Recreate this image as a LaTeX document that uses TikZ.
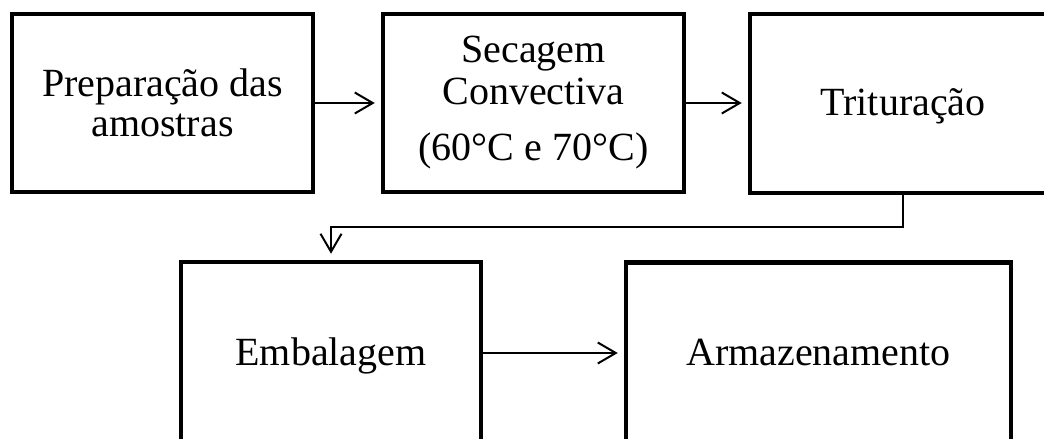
\documentclass[tikz,border=0pt]{standalone}
\usepackage{fontspec}
\setmainfont{Liberation Serif}
\usetikzlibrary{arrows.meta}

\begin{document}
\begin{tikzpicture}[x=1pt,y=-1pt,
  stepbox/.style={draw, line width=4.5pt, rectangle, align=center,
    font=\fontsize{40}{42}\selectfont, inner sep=0pt},
  oneline/.style={text height=27pt, text depth=3pt},
  flow/.style={line width=2pt, -{Straight Barb[length=18pt,width=21pt,line width=2pt]},
    shorten >=6pt}]
  \useasboundingbox (0,0) rectangle (1044,439);
  \clip (0,0) rectangle (1044,439);

  % top row
  \node[stepbox, minimum width=301pt, minimum height=178pt] (prep) at (162.5,103)
    {Preparação das\\[-2pt]amostras};
  \node[stepbox, minimum width=301pt, minimum height=178pt] (sec) at (533.5,103)
    {\raisebox{-3pt}{\parbox{280pt}{\centering Secagem\\Convectiva\\[14pt](60°C e 70°C)}}};
  \node[stepbox, oneline, minimum width=306pt, minimum height=179pt] (trit) at (903,103.5)
    {Trituração};

  % bottom row
  \node[stepbox, oneline, minimum width=300pt, minimum height=182pt] (emb) at (331,353)
    {Embalagem};
  \node[stepbox, oneline, minimum width=385pt, minimum height=181pt] (arm) at (818.5,353)
    {Armazenamento};

  % connectors
  \draw[flow] (prep.east) -- (sec.west);
  \draw[flow] (sec.east) -- (trit.west |- sec.east);
  \draw[flow] (trit.south) -- ++(0,32) -| (emb.north);
  \draw[flow] (emb.east) -- (arm.west);
\end{tikzpicture}
\end{document}
